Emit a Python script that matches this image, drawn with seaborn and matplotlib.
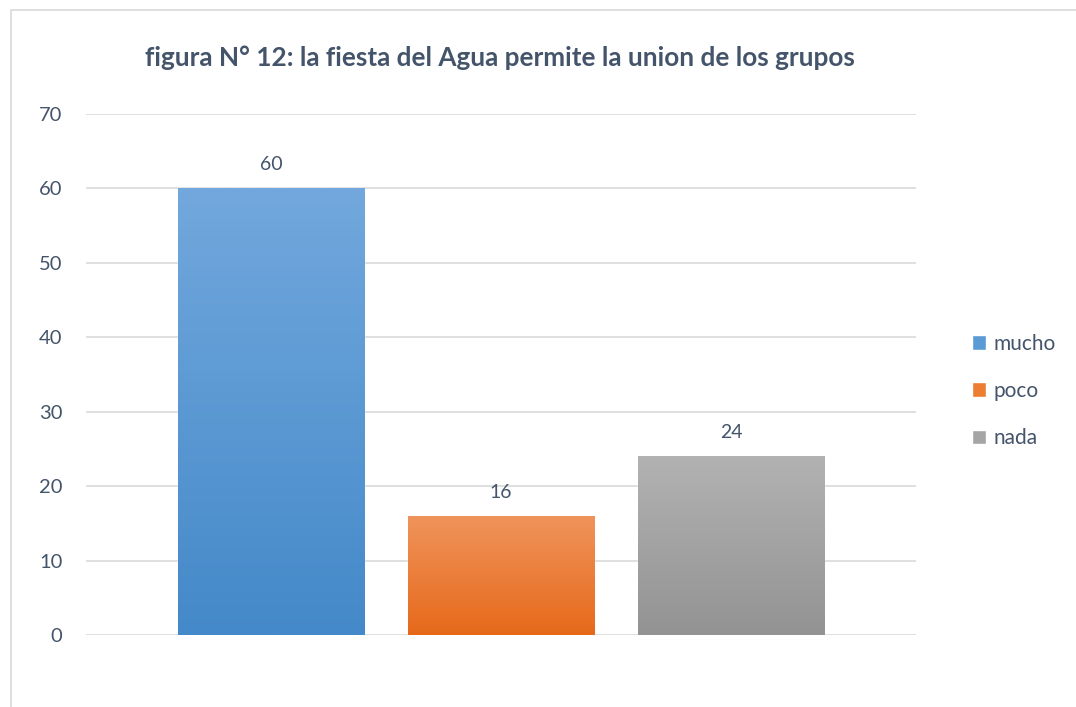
import matplotlib
matplotlib.use("Agg")
import matplotlib.pyplot as plt
import matplotlib.colors as mcolors
import numpy as np
import seaborn as sns
from matplotlib.patches import Rectangle

# data
categorias = ["mucho", "poco", "nada"]
valores = [60, 16, 24]
titulo = "figura N° 12: la fiesta del Agua permite la union de los grupos"

# colours (top of bar, bottom of bar)
grad = {
    "mucho": ("#72a8dd", "#4489c9"),
    "poco": ("#f0945c", "#e6691a"),
    "nada": ("#b2b2b2", "#939393"),
}
paleta = {"mucho": "#5b9bd5", "poco": "#ed7d31", "nada": "#a5a5a5"}
texto = "#44546a"
gris = "#d9d9d9"

sns.set_theme(style="white")
plt.rcParams["font.family"] = ["Lato", "DejaVu Sans"]

fig = plt.figure(figsize=(10.76, 7.07), dpi=100)
ax = fig.add_axes([86 / 1076, 1 - 635 / 707, 830 / 1076, 521 / 707])

sns.barplot(x=categorias, y=valores, hue=categorias, palette=paleta,
            width=0.81, legend=True, ax=ax, saturation=1)

# vertical gradient on each bar, clipped to the bar itself
for patch, cat in zip(ax.patches, categorias):
    x0, y0 = patch.get_x(), patch.get_y()
    w, h = patch.get_width(), patch.get_height()
    cmap = mcolors.LinearSegmentedColormap.from_list(cat, [grad[cat][1], grad[cat][0]])
    img = ax.imshow(np.linspace(0, 1, 256).reshape(-1, 1), cmap=cmap, origin="lower",
                    extent=[x0, x0 + w, y0, y0 + h], aspect="auto", zorder=patch.get_zorder() + 0.1)
    img.set_clip_path(patch)

for cont in ax.containers:
    ax.bar_label(cont, padding=11, fontsize=14, color=texto)

ax.set_xlim(-0.804, 2.804)
ax.set_ylim(0, 70)
ax.set_yticks(range(0, 71, 10))
ax.set_xticks([])
ax.set_xlabel("")
ax.set_ylabel("")
ax.tick_params(axis="y", length=0, pad=17, labelsize=14.5, labelcolor=texto)
ax.yaxis.grid(True, color=gris, linewidth=1.2)
ax.set_axisbelow(True)
for s in ax.spines.values():
    s.set_visible(False)

fig.text(500 / 1076, 1 - 58 / 707, titulo, ha="center", va="center",
         fontsize=18.8, fontweight="bold", color=texto)

leg = ax.legend(loc="center left", bbox_to_anchor=(953 / 1076, 1 - 391 / 707),
                bbox_transform=fig.transFigure, frameon=False, fontsize=15,
                handlelength=0.7, handleheight=0.7, handletextpad=0.35,
                labelspacing=1.3, labelcolor=texto)

# outer chart border
fig.patches.append(Rectangle((11 / 1076, -0.2), 2, 1.2 - 10 / 707, transform=fig.transFigure,
                             fill=False, edgecolor=gris, linewidth=1.2))

fig.savefig("out.png", dpi=100)
